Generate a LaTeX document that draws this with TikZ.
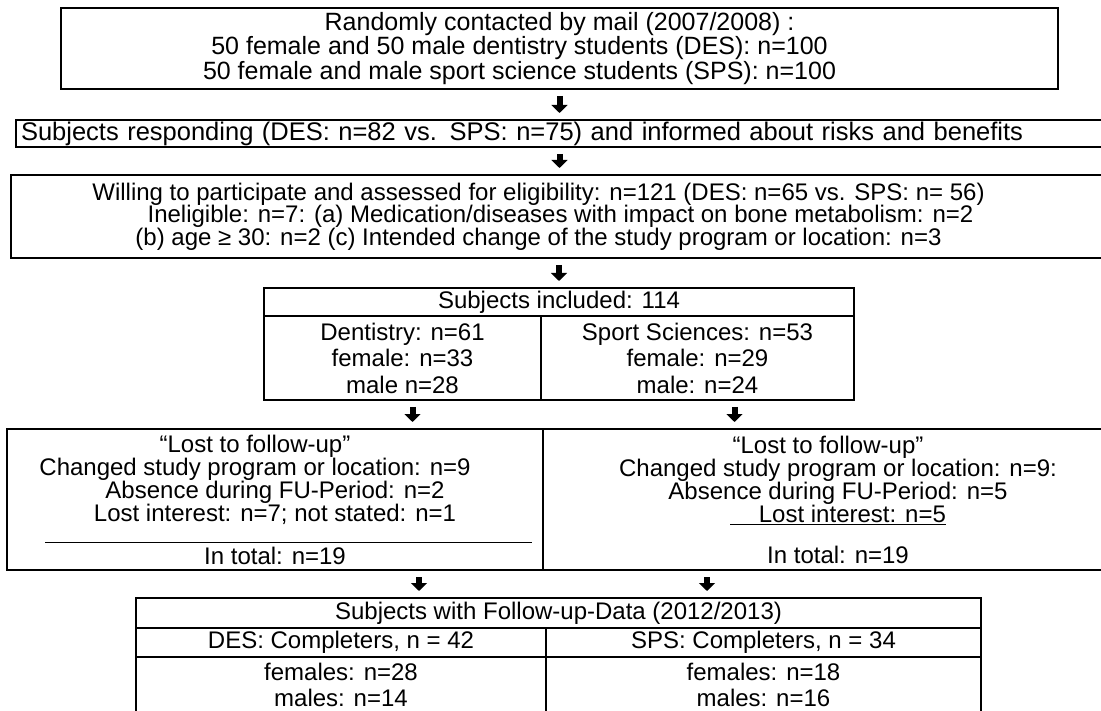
\documentclass[tikz,border=0pt]{standalone}
\usepackage{fontspec}
\setmainfont{Liberation Sans}
\usetikzlibrary{arrows.meta,positioning}
\begin{document}
\begin{tikzpicture}[x=1pt, y=-1pt,
        box/.style={rectangle, draw, line width=1.6pt, inner sep=0pt, outer sep=0pt, align=center, font=\fontsize{24}{22.5}\selectfont},
        cell/.style={box, font=\fontsize{24}{26.5}\selectfont},
        flow/.style={line width=6pt, -{Triangle[width=16pt, length=8pt]}, shorten <=7pt, shorten >=7pt}]
        \useasboundingbox (0,0) rectangle (1101,711);
        \node [box, font=\fontsize{25}{22.5}\selectfont, minimum width=997pt, minimum height=81pt] (intro) at (559.5,48.5) {Randomly contacted by mail (2007/2008) :\\\hspace*{-80pt}50 female and 50 male dentistry students (DES): n=100\\\hspace*{-80pt}50 female and male sport science students (SPS): n=100};
        \node [box, font=\fontsize{25.5}{22.5}\selectfont, align=left, text width=1104pt, inner xsep=5pt, minimum height=27pt] (respond) at (573,133.5) {Subjects responding (DES: n=82 vs. SPS: n=75) and informed about risks and benefits};
        \node [box, minimum width=1099pt, minimum height=83pt] (willing) at (560.5,216.5) {\hspace*{-44pt}Willing to participate and assessed for eligibility: n=121 (DES: n=65 vs. SPS: n= 56)\\Ineligible: n=7: (a) Medication/diseases with impact on bone metabolism: n=2\\\hspace*{-44pt}(b) age ≥ 30: n=2 (c) Intended change of the study program or location: n=3};

        \node [cell, minimum width=590pt, minimum height=28pt] (incl) at (559,302) {Subjects included: 114};
        \node [cell, minimum width=277pt, minimum height=84pt, below right=0pt and 0pt of incl.south west] (inclDES) {Dentistry: n=61\\female: n=33\\male n=28};
        \node [cell, minimum width=313pt, minimum height=84pt, right=0pt of inclDES] (inclSPS) {Sport Sciences: n=53\\female: n=29\\male: n=24};

        \node [box, font=\fontsize{24}{23}\selectfont, minimum width=536pt, minimum height=141pt] (lostDES) at (275,499.5) {\hspace*{-40pt}“Lost to follow-up”\\\hspace*{-40pt}Changed study program or location: n=9\\Absence during FU-Period: n=2\\Lost interest: n=7; not stated: n=1\\[20pt]In total: n=19};
        \node [box, font=\fontsize{24}{23}\selectfont, minimum width=590pt, minimum height=141pt, right=0pt of lostDES] (lostSPS) {\hspace*{-20pt}“Lost to follow-up”\\Changed study program or location: n=9:\\Absence during FU-Period: n=5\\\underline{\hspace{1.2em}Lost interest: n=5}\\[18pt]In total: n=19};
        \draw [line width=1pt] ([shift={(38pt,28pt)}]lostDES.south west) -- ([shift={(-11pt,28pt)}]lostDES.south east);

        \node [cell, minimum width=845pt, minimum height=30pt] (fu) at (558.5,613) {Subjects with Follow-up-Data (2012/2013)};
        \node [cell, minimum width=410pt, minimum height=29pt, below right=0pt and 0pt of fu.south west] (fuDES) {DES: Completers, n = 42};
        \node [cell, minimum width=435pt, minimum height=29pt, right=0pt of fuDES] (fuSPS) {SPS: Completers, n = 34};
        \node [cell, font=\fontsize{24}{26}\selectfont, minimum width=410pt, minimum height=56pt, below=0pt of fuDES] (fuDESsex) {females: n=28\\males: n=14};
        \node [cell, font=\fontsize{24}{26}\selectfont, minimum width=435pt, minimum height=56pt, below=0pt of fuSPS] (fuSPSsex) {females: n=18\\males: n=16};

        \coordinate (dropA) at ([xshift=10pt]inclDES.south);
        \coordinate (dropB) at ([xshift=37pt]inclSPS.south);
        \coordinate (dropC) at ([xshift=-139.5pt]fu.north);
        \coordinate (dropD) at ([xshift=148.5pt]fu.north);

        \draw [flow] (intro.south) -- (intro.south |- respond.north);
        \draw [flow] (respond.south -| intro.south) -- (willing.north -| intro.south);
        \draw [flow] (willing.south -| incl.north) -- (incl.north);
        \draw [flow] (dropA) -- (dropA |- lostDES.north);
        \draw [flow] (dropB) -- (dropB |- lostSPS.north);
        \draw [flow] (lostDES.south -| dropC) -- (dropC);
        \draw [flow] (lostSPS.south -| dropD) -- (dropD);
    \end{tikzpicture}
\end{document}
